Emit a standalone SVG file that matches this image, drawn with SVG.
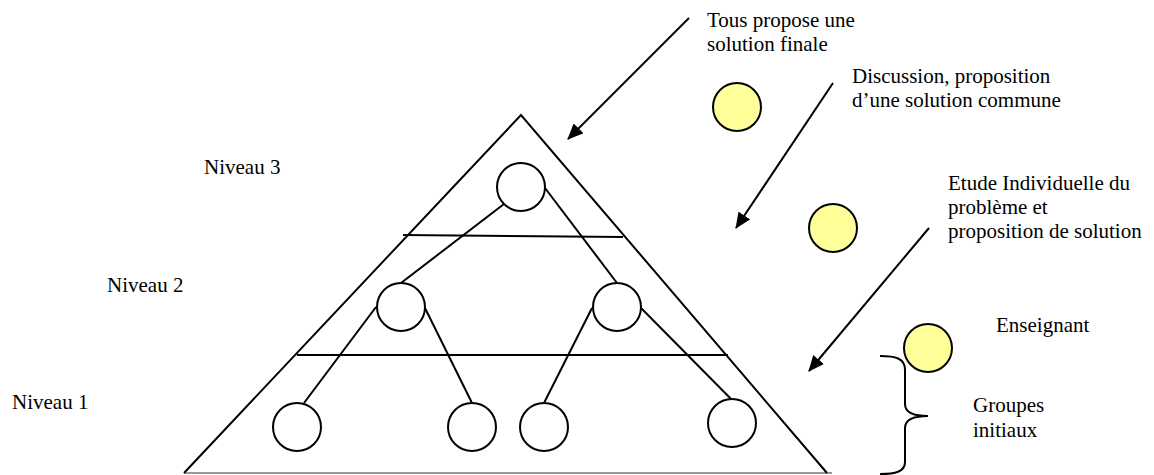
<svg xmlns="http://www.w3.org/2000/svg" width="1154" height="475" viewBox="0 0 1154 475">
<style>
.ln{stroke:#000;stroke-width:2;fill:none}
.nd{stroke:#000;stroke-width:2;fill:#fff}
.ys{stroke:#000;stroke-width:2;fill:#ffff99}
.tx{font-family:"Liberation Serif","Times New Roman",serif;font-size:21px;fill:#000}
</style>
<defs>
<marker id="ah" viewBox="0 0 10 10" refX="9" refY="5" markerWidth="8" markerHeight="8" markerUnits="userSpaceOnUse" orient="auto">
<path d="M0,0 L10,5 L0,10 z" fill="#000"/>
</marker>
<marker id="ah2" viewBox="0 0 16 14" refX="15" refY="7" markerWidth="16" markerHeight="14" markerUnits="userSpaceOnUse" orient="auto">
<path d="M0,0 L16,7 L0,14 z" fill="#000"/>
</marker>
</defs>
<rect width="1154" height="475" fill="#fff"/>
<g id="pyramid">
<line x1="184" y1="473" x2="832" y2="473" stroke="#999" stroke-width="2"/>
<polyline class="ln" points="184,473 521,115 827,473"/>
<line class="ln" x1="403" y1="235" x2="623" y2="237"/>
<line class="ln" x1="297" y1="355" x2="728" y2="355"/>
</g>
<g id="connectors">
<line class="ln" x1="504" y1="204" x2="401" y2="283"/>
<line class="ln" x1="545" y1="188" x2="617" y2="283"/>
<line class="ln" x1="376" y1="307" x2="304" y2="403"/>
<line class="ln" x1="425" y1="308" x2="472" y2="403"/>
<line class="ln" x1="592" y1="308" x2="544" y2="403"/>
<line class="ln" x1="641" y1="308" x2="737" y2="405"/>
<line class="ln" x1="689" y1="18" x2="568" y2="139" marker-end="url(#ah2)"/>
<line class="ln" x1="833" y1="83" x2="736" y2="228" marker-end="url(#ah2)"/>
<line class="ln" x1="929" y1="228" x2="809" y2="371" marker-end="url(#ah2)"/>
</g>
<g id="n3"><circle class="nd" cx="521" cy="187" r="24"/></g>
<g id="n2a"><circle class="nd" cx="401" cy="307" r="24"/></g>
<g id="n2b"><circle class="nd" cx="617" cy="307" r="24"/></g>
<g id="n1a"><circle class="nd" cx="297" cy="427" r="24"/></g>
<g id="n1b"><circle class="nd" cx="472" cy="427" r="24"/></g>
<g id="n1c"><circle class="nd" cx="544" cy="427" r="24"/></g>
<g id="n1d"><circle class="nd" cx="732" cy="423" r="24"/></g>
<g id="y1"><circle class="ys" cx="737" cy="107" r="24"/></g>
<g id="y2"><circle class="ys" cx="833" cy="228" r="24"/></g>
<g id="y3"><circle class="ys" cx="928" cy="348" r="24"/></g>
<g id="brace"><path class="ln" d="M880,356 C895,356 905,358 905,370 L905,404 C905,412 912,416 928,416 C912,416 905,420 905,428 L905,462 C905,472 895,474 880,474"/></g>
<g id="labels">
<text class="tx" x="707" y="27">Tous propose une</text>
<text class="tx" x="707" y="51">solution finale</text>
<text class="tx" x="852" y="83">Discussion, proposition</text>
<text class="tx" x="852" y="107">d’une solution commune</text>
<text class="tx" x="948" y="190">Etude Individuelle du</text>
<text class="tx" x="948" y="214">problème et</text>
<text class="tx" x="948" y="238">proposition de solution</text>
<text class="tx" x="204" y="174">Niveau 3</text>
<text class="tx" x="107" y="292">Niveau 2</text>
<text class="tx" x="12" y="409">Niveau 1</text>
<text class="tx" x="996" y="332">Enseignant</text>
<text class="tx" x="973" y="412">Groupes</text>
<text class="tx" x="973" y="437">initiaux</text>
</g>
</svg>
